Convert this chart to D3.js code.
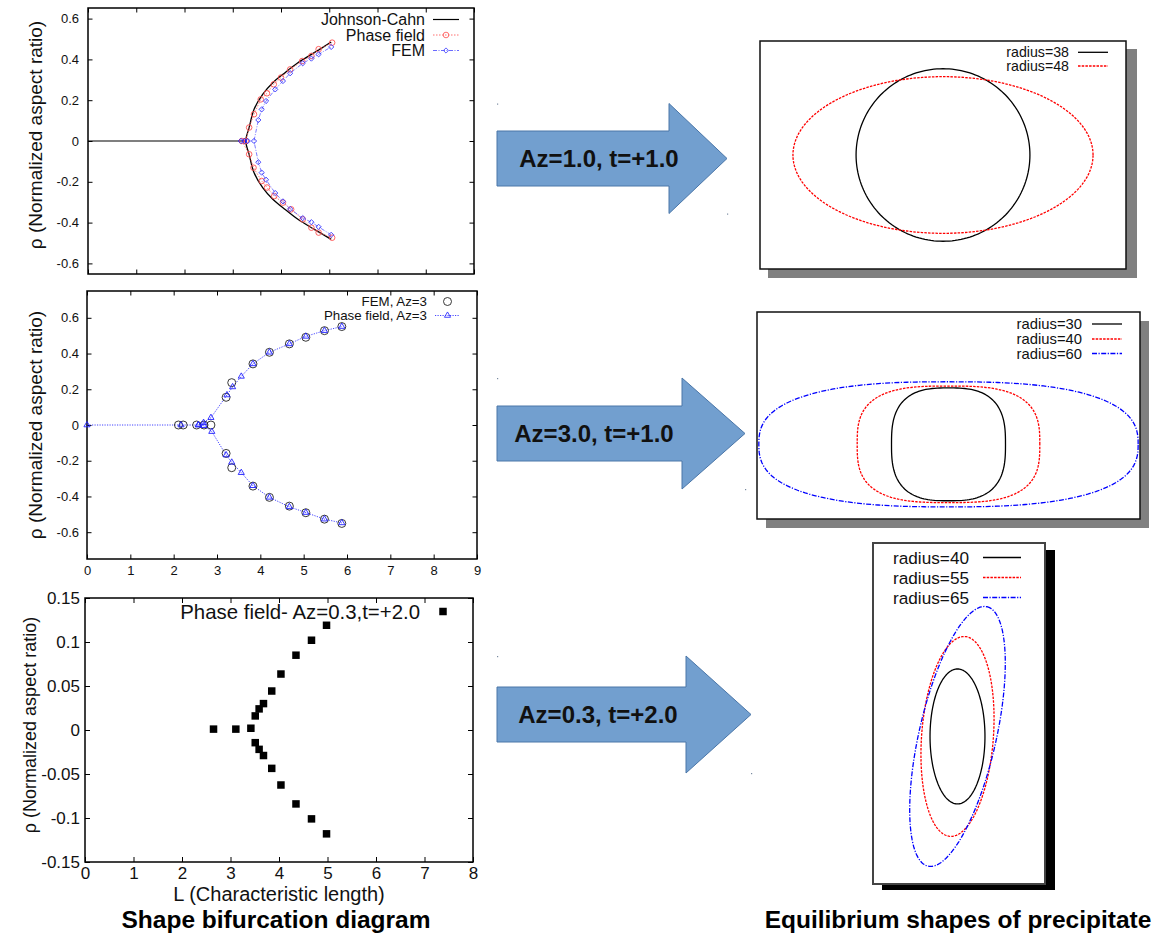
<!DOCTYPE html>
<html>
<head>
<meta charset="utf-8">
<script src="https://cdn.jsdelivr.net/npm/d3@7"></script>
<style>
  body { margin: 0; background: #fff; }
  svg { font-family: "Liberation Sans", Arial, Helvetica, sans-serif; }
</style>
</head>
<body>
<svg id="fig" width="1161" height="933"></svg>
<script>
// ---------- left column: shape bifurcation data ----------
// Az=1.0, t=+1.0
const jcStemL = [0, 3.27];
const jcStemRho = [0, 0];
const jcL = [5.04, 4.69, 4.35, 4.04, 3.83, 3.62, 3.44, 3.34, 3.27, 3.34, 3.44, 3.62, 3.83, 4.04, 4.35, 4.69, 5.04];
const jcRho = [-0.482, -0.433, -0.384, -0.327, -0.286, -0.229, -0.155, -0.066, 0, 0.066, 0.155, 0.229, 0.286, 0.327, 0.384, 0.433, 0.485];
const pfAL = [5.06, 4.78, 4.63, 4.45, 4.21, 4.04, 3.86, 3.71, 3.6, 3.43, 3.34, 3.19, 3.27, 3.34, 3.44, 3.58, 3.71, 3.85, 4.0, 4.19, 4.44, 4.63, 4.78, 5.06];
const pfARho = [-0.474, -0.449, -0.425, -0.384, -0.335, -0.302, -0.27, -0.228, -0.196, -0.131, -0.065, 0, 0, 0.066, 0.131, 0.204, 0.234, 0.278, 0.311, 0.351, 0.392, 0.417, 0.45, 0.482];
const femAL = [5.04, 4.78, 4.63, 4.45, 4.19, 4.04, 3.88, 3.69, 3.6, 3.53, 3.44, 3.53, 3.6, 3.69, 3.88, 4.04, 4.19, 4.45, 4.63, 4.78, 5.04];
const femARho = [-0.46, -0.421, -0.398, -0.378, -0.333, -0.296, -0.255, -0.19, -0.155, -0.104, 0, 0.103, 0.155, 0.196, 0.253, 0.294, 0.332, 0.381, 0.404, 0.425, 0.461];
const femAZeroL = [3.17, 3.24, 3.31];

// Az=3.0, t=+1.0
const femBL = [2.11, 2.22, 2.53, 2.7, 2.86, 3.21, 3.34, 3.83, 4.21, 4.67, 5.05, 5.48, 5.88, 3.21, 3.34, 3.83, 4.21, 4.67, 5.05, 5.48, 5.88];
const femBRho = [0, 0, 0, 0, 0, 0.155, 0.237, 0.342, 0.407, 0.454, 0.491, 0.528, 0.551, -0.159, -0.239, -0.342, -0.405, -0.454, -0.491, -0.527, -0.551];
const pfBUpperL = [0, 2.17, 2.57, 2.69, 2.86, 3.23, 3.36, 3.56, 3.83, 4.21, 4.67, 5.05, 5.48, 5.88];
const pfBUpperRho = [0, 0, 0, 0.013, 0.041, 0.168, 0.213, 0.272, 0.342, 0.407, 0.454, 0.496, 0.528, 0.551];
const pfBLowerL = [2.57, 2.7, 2.88, 3.21, 3.34, 3.56, 3.83, 4.21, 4.67, 5.05, 5.48, 5.88];
const pfBLowerRho = [0, -0.004, -0.037, -0.168, -0.209, -0.267, -0.34, -0.405, -0.458, -0.49, -0.527, -0.548];

// Az=0.3, t=+2.0
const pfCL = [2.65, 3.11, 3.42, 3.51, 3.59, 3.68, 3.85, 4.04, 4.35, 4.67, 4.98, 3.51, 3.59, 3.68, 3.85, 4.04, 4.35, 4.67, 4.98];
const pfCRho = [0.001, 0.001, 0.002, 0.016, 0.024, 0.03, 0.0443, 0.0636, 0.085, 0.102, 0.119, -0.0144, -0.022, -0.029, -0.0436, -0.0625, -0.084, -0.101, -0.118];

const ticksX8 = [0, 1, 2, 3, 4, 5, 6, 7, 8];
const ticksX9 = [0, 1, 2, 3, 4, 5, 6, 7, 8, 9];
const ticksRho6 = [-0.6, -0.4, -0.2, 0, 0.2, 0.4, 0.6];
const ticksRho15 = [-0.15, -0.1, -0.05, 0, 0.05, 0.1, 0.15];

// ---------- right column: equilibrium shapes (semi-axes in grid units) ----------
const shapesALabels = ['radius=38', 'radius=48'];
const shapesASemiX = [57, 98.4];
const shapesASemiY = [56.6, 51.4];
const shapesAPower = [2, 2];

const shapesBLabels = ['radius=30', 'radius=40', 'radius=60'];
const shapesBSemiX = [37.2, 59.6, 123.8];
const shapesBSemiY = [36.8, 38, 40.8];
const shapesBPower = [2.8, 3, 2.6];

const shapesCLabels = ['radius=40', 'radius=55', 'radius=65'];
const shapesCMajor = [45, 66.8, 88.7];
const shapesCMinor = [18.3, 23.9, 25.7];
const shapesCTilt = [0, 4.3, 12.8];

const arrowLabels = ['Az=1.0, t=+1.0', 'Az=3.0, t=+1.0', 'Az=0.3, t=+2.0'];

const svg = d3.select('#fig');
const zip = (a, b) => a.map((v, i) => [v, b[i]]);

function bifurcationPanel(o) {
  const g = svg.append('g');
  const x = d3.scaleLinear().domain(o.xDomain).range([o.left, o.right]);
  const y = d3.scaleLinear().domain(o.yDomain).range([o.bottom, o.top]);
  const fmt = d => String(d);

  const axes = [
    [d3.axisBottom(x).tickValues(o.xTicks).tickPadding(o.xPad).tickFormat(o.xLabels ? fmt : ''), `translate(0,${o.bottom})`],
    [d3.axisTop(x).tickValues(o.xTicks).tickFormat(''), `translate(0,${o.top})`],
    [d3.axisLeft(y).tickValues(o.yTicks).tickPadding(o.yPad).tickFormat(fmt), `translate(${o.left},0)`],
    [d3.axisRight(y).tickValues(o.yTicks).tickFormat(''), `translate(${o.right},0)`]
  ];
  axes.forEach(([ax, tr]) => {
    const a = g.append('g').attr('transform', tr).call(ax.tickSize(-o.tick));
    a.attr('font-family', null).attr('font-size', o.tickFont);
    a.select('.domain').remove();
    a.selectAll('line').attr('stroke', '#000');
    a.selectAll('text').attr('fill', '#111');
  });

  g.append('rect')
    .attr('x', o.left).attr('y', o.top)
    .attr('width', o.right - o.left).attr('height', o.bottom - o.top)
    .attr('fill', 'none').attr('stroke', '#000').attr('stroke-width', 1.5);

  g.append('text')
    .attr('transform', `translate(${o.yLabelX},${(o.top + o.bottom) / 2 + o.yLabelShift}) rotate(-90)`)
    .attr('text-anchor', 'middle').attr('dy', '0.35em')
    .attr('font-size', o.yLabelFont).attr('fill', '#111')
    .text('ρ (Normalized aspect ratio)');

  const line = d3.line().x(d => x(d[0])).y(d => y(d[1]));
  return { g, x, y, line };
}

function marker(sel, kind, size, color, fill) {
  if (kind === 'circle') {
    sel.append('circle').attr('r', size).attr('fill', fill || 'none').attr('stroke', color).attr('stroke-width', 0.9);
  } else if (kind === 'diamond') {
    sel.append('path').attr('d', d3.symbol(d3.symbolSquare, size * size * 2)())
      .attr('transform', 'rotate(45)')
      .attr('fill', 'none').attr('stroke', color).attr('stroke-width', 0.9);
  } else if (kind === 'triangle') {
    sel.append('path').attr('d', d3.symbol(d3.symbolTriangle, size * size * 2.6)())
      .attr('fill', 'none').attr('stroke', color).attr('stroke-width', 0.9);
  } else if (kind === 'square') {
    sel.append('path').attr('d', d3.symbol(d3.symbolSquare, size * size)())
      .attr('fill', color);
  }
}

function drawMarkers(p, pts, kind, size, color, fill) {
  p.g.append('g').selectAll('g').data(pts).join('g')
    .attr('transform', d => `translate(${p.x(d[0])},${p.y(d[1])})`)
    .each(function () { marker(d3.select(this), kind, size, color, fill); });
}

function legend(g, items, o) {
  items.forEach((it, i) => {
    const yy = o.rows[i];
    g.append('text').attr('x', o.textRight).attr('y', yy).attr('dy', '0.35em')
      .attr('text-anchor', 'end').attr('font-size', o.font).attr('fill', '#111').text(it.label);
    if (it.line) {
      g.append('line').attr('x1', o.x1).attr('x2', o.x2).attr('y1', yy).attr('y2', yy)
        .attr('stroke', it.color).attr('stroke-width', it.width || 1.2)
        .attr('stroke-dasharray', it.dash || null);
    }
    if (it.marker) {
      const m = g.append('g').attr('transform', `translate(${(o.x1 + o.x2) / 2},${yy})`);
      marker(m, it.marker, it.size, it.color, it.fill);
    }
  });
}

// ---- panel A ----
const pA = bifurcationPanel({
  left: 88, right: 474, top: 8, bottom: 274,
  xDomain: [0, 8], yDomain: [-0.652, 0.652],
  xTicks: ticksX8, yTicks: ticksRho6, xLabels: false,
  tick: 4.5, tickFont: 13, xPad: 6, yPad: 9,
  yLabelX: 35, yLabelShift: -6, yLabelFont: 19
});
pA.g.append('path').attr('d', pA.line(zip(jcStemL, jcStemRho))).attr('fill', 'none').attr('stroke', '#000').attr('stroke-width', 1.2);
pA.g.append('path').attr('d', pA.line.curve(d3.curveCatmullRom)(zip(jcL, jcRho))).attr('fill', 'none').attr('stroke', '#000').attr('stroke-width', 1.3);
pA.line.curve(d3.curveLinear);
pA.g.append('path').attr('d', pA.line(zip(pfAL, pfARho))).attr('fill', 'none')
  .attr('stroke', '#ff6060').attr('stroke-width', 0.8).attr('stroke-dasharray', '1.5,1.5');
drawMarkers(pA, zip(pfAL, pfARho), 'circle', 2.8, '#ff5050');
pA.g.append('path').attr('d', pA.line(zip(femAL, femARho))).attr('fill', 'none')
  .attr('stroke', '#5a5aff').attr('stroke-width', 0.8).attr('stroke-dasharray', '4,1.5,1,1.5');
drawMarkers(pA, zip(femAL, femARho), 'diamond', 2.6, '#4040ff');
drawMarkers(pA, femAZeroL.map(v => [v, 0]), 'diamond', 2.6, '#2020ff');
legend(pA.g, [
  { label: 'Johnson-Cahn', line: true, color: '#000' },
  { label: 'Phase field', line: true, color: '#ff6060', dash: '1.5,1.5', width: 0.9, marker: 'circle', size: 2.8 },
  { label: 'FEM', line: true, color: '#5a5aff', dash: '4,1.5,1,1.5', width: 0.9, marker: 'diamond', size: 2.6 }
], { textRight: 425, rows: [19.5, 35, 50.5], x1: 433, x2: 459, font: 16 });

// ---- panel B ----
const pB = bifurcationPanel({
  left: 87, right: 477, top: 291, bottom: 559,
  xDomain: [0, 9], yDomain: [-0.75, 0.75],
  xTicks: ticksX9, yTicks: ticksRho6, xLabels: true,
  tick: 4.5, tickFont: 13, xPad: 7, yPad: 8,
  yLabelX: 35, yLabelShift: 0, yLabelFont: 19
});
pB.g.append('path').attr('d', pB.line(zip(pfBUpperL, pfBUpperRho))).attr('fill', 'none')
  .attr('stroke', '#3030ff').attr('stroke-width', 0.9).attr('stroke-dasharray', '1.2,1.3');
pB.g.append('path').attr('d', pB.line(zip(pfBLowerL, pfBLowerRho))).attr('fill', 'none')
  .attr('stroke', '#3030ff').attr('stroke-width', 0.9).attr('stroke-dasharray', '1.2,1.3');
drawMarkers(pB, zip(femBL, femBRho), 'circle', 4, '#222');
drawMarkers(pB, zip(pfBUpperL, pfBUpperRho), 'triangle', 2.5, '#2020ff');
drawMarkers(pB, zip(pfBLowerL, pfBLowerRho), 'triangle', 2.5, '#2020ff');
legend(pB.g, [
  { label: 'FEM, Az=3', marker: 'circle', size: 4, color: '#222' },
  { label: 'Phase field, Az=3', line: true, color: '#3030ff', dash: '1.2,1.3', width: 0.9, marker: 'triangle', size: 2.5 }
], { textRight: 427, rows: [301.5, 315.5], x1: 435, x2: 460, font: 13.3 });

// ---- panel C ----
const pC = bifurcationPanel({
  left: 85, right: 473, top: 598, bottom: 862,
  xDomain: [0, 8], yDomain: [-0.15, 0.15],
  xTicks: ticksX8, yTicks: ticksRho15, xLabels: true,
  tick: 5, tickFont: 17, xPad: 5, yPad: 5,
  yLabelX: 30, yLabelShift: -5, yLabelFont: 18
});
drawMarkers(pC, zip(pfCL, pfCRho), 'square', 7.5, '#000');
legend(pC.g, [
  { label: 'Phase field- Az=0.3,t=+2.0', marker: 'square', size: 7.5, color: '#000' }
], { textRight: 420, rows: [611.5], x1: 430, x2: 456, font: 20.4 });
pC.g.append('text').attr('x', (pC.x.range()[0] + pC.x.range()[1]) / 2).attr('y', 894).attr('dy', '0.35em')
  .attr('text-anchor', 'middle').attr('font-size', 20).attr('fill', '#111').text('L (Characteristic length)');

svg.append('text').attr('x', 276).attr('y', 919).attr('dy', '0.35em').attr('text-anchor', 'middle')
  .attr('font-size', 24.5).attr('font-weight', 'bold').text('Shape bifurcation diagram');
svg.append('text').attr('x', 958).attr('y', 919).attr('dy', '0.35em').attr('text-anchor', 'middle')
  .attr('font-size', 24.5).attr('font-weight', 'bold').text('Equilibrium shapes of precipitate');

// ---------- arrows ----------
const arrowGeom = [
  { x0: 497, x1: 669, tip: 727, cy: 158.5, shaft: 27.5, head: 55, tx: 599 },
  { x0: 497, x1: 682, tip: 745, cy: 433.5, shaft: 27.5, head: 55.5, tx: 594 },
  { x0: 497, x1: 686, tip: 751, cy: 714.5, shaft: 27.5, head: 58.5, tx: 598 }
];
arrowLabels.forEach((lab, i) => {
  const a = arrowGeom[i];
  const pts = [[a.x0, a.cy - a.shaft], [a.x1, a.cy - a.shaft], [a.x1, a.cy - a.head], [a.tip, a.cy],
    [a.x1, a.cy + a.head], [a.x1, a.cy + a.shaft], [a.x0, a.cy + a.shaft]];
  svg.append('path').attr('d', d3.line()(pts) + 'Z')
    .attr('fill', '#729fcf').attr('stroke', '#4a76a8').attr('stroke-width', 1);
  svg.append('text').attr('x', a.tx).attr('y', a.cy).attr('dy', '0.35em').attr('text-anchor', 'middle')
    .attr('font-size', 24).attr('font-weight', 'bold').attr('fill', '#111').text(lab);
  [[a.x0, a.cy - a.head], [a.tip, a.cy + a.head]].forEach(p =>
    svg.append('rect').attr('x', p[0]).attr('y', p[1]).attr('width', 1.2).attr('height', 1.2).attr('fill', '#7a8aa0'));
});

// ---------- shape panels ----------
function shapePanel(o) {
  const g = svg.append('g');
  g.append('rect').attr('x', o.left + o.sdx).attr('y', o.top + o.sdy)
    .attr('width', o.right - o.left + o.sw).attr('height', o.bottom - o.top + o.sh)
    .attr('fill', o.shadow);
  g.append('rect').attr('x', o.left).attr('y', o.top)
    .attr('width', o.right - o.left).attr('height', o.bottom - o.top)
    .attr('fill', '#fff').attr('stroke', o.frameColor || '#111').attr('stroke-width', o.frameWidth || 1.5);
  const x = d3.scaleLinear().domain(o.xDomain).range([o.left, o.right]);
  const y = d3.scaleLinear().domain(o.yDomain).range([o.bottom, o.top]);
  const line = d3.line().x(d => x(d[0])).y(d => y(d[1])).curve(d3.curveLinearClosed);
  return { g, x, y, line };
}

const styles = [
  { color: '#000', dash: null },
  { color: '#ff0000', dash: '2.5,1.2' },
  { color: '#0000ff', dash: '5,1.5,1.2,1.5' }
];
const angles = d3.range(0, 360, 2).map(a => a * Math.PI / 180);

function superOutline(a, b, n) {
  return angles.map(t => {
    const c = Math.cos(t), s = Math.sin(t);
    return [a * Math.sign(c) * Math.pow(Math.abs(c), 2 / n), b * Math.sign(s) * Math.pow(Math.abs(s), 2 / n)];
  });
}
function tiltedOutline(major, minor, deg) {
  const th = deg * Math.PI / 180;
  return angles.map(t => {
    const u = major * Math.cos(t), v = minor * Math.sin(t);
    return [u * Math.sin(th) + v * Math.cos(th), u * Math.cos(th) - v * Math.sin(th)];
  });
}

function drawShapes(p, outlines, labels, lg) {
  outlines.forEach((pts, i) => {
    p.g.append('path').attr('d', p.line(pts)).attr('fill', 'none')
      .attr('stroke', styles[i].color).attr('stroke-width', 1.3)
      .attr('stroke-dasharray', styles[i].dash);
  });
  legend(p.g, labels.map((l, i) => ({ label: l, line: true, color: styles[i].color, dash: styles[i].dash, width: 1.3 })), lg);
}

const sA = shapePanel({
  left: 760, right: 1126, top: 41, bottom: 269, sdx: 8, sdy: 8, sw: 3, sh: 1, shadow: '#808080',
  xDomain: [-120, 120], yDomain: [-74.8, 74.8]
});
drawShapes(sA, shapesALabels.map((_, i) => superOutline(shapesASemiX[i], shapesASemiY[i], shapesAPower[i])),
  shapesALabels, { textRight: 1069, rows: [52.3, 66], x1: 1078, x2: 1108, font: 14.2 });

const sB = shapePanel({
  left: 757, right: 1140, top: 312, bottom: 519, sdx: 9, sdy: 9, sw: 0, sh: 0, shadow: '#808080',
  xDomain: [-125, 125], yDomain: [-48.7, 86.3]
});
drawShapes(sB, shapesBLabels.map((_, i) => superOutline(shapesBSemiX[i], shapesBSemiY[i], shapesBPower[i])),
  shapesBLabels, { textRight: 1082, rows: [324, 339, 353.5], x1: 1092, x2: 1122, font: 14.8 });

const sC = shapePanel({
  left: 873, right: 1045, top: 543, bottom: 884, sdx: 9, sdy: 7, sw: 1, sh: -1, shadow: '#000',
  frameColor: '#444', frameWidth: 2,
  xDomain: [-56.3, 58.3], yDomain: [-98.4, 129]
});
drawShapes(sC, shapesCLabels.map((_, i) => tiltedOutline(shapesCMajor[i], shapesCMinor[i], shapesCTilt[i])),
  shapesCLabels, { textRight: 969, rows: [557.5, 577.5, 597.5], x1: 983, x2: 1021, font: 17.2 });
</script>
</body>
</html>
